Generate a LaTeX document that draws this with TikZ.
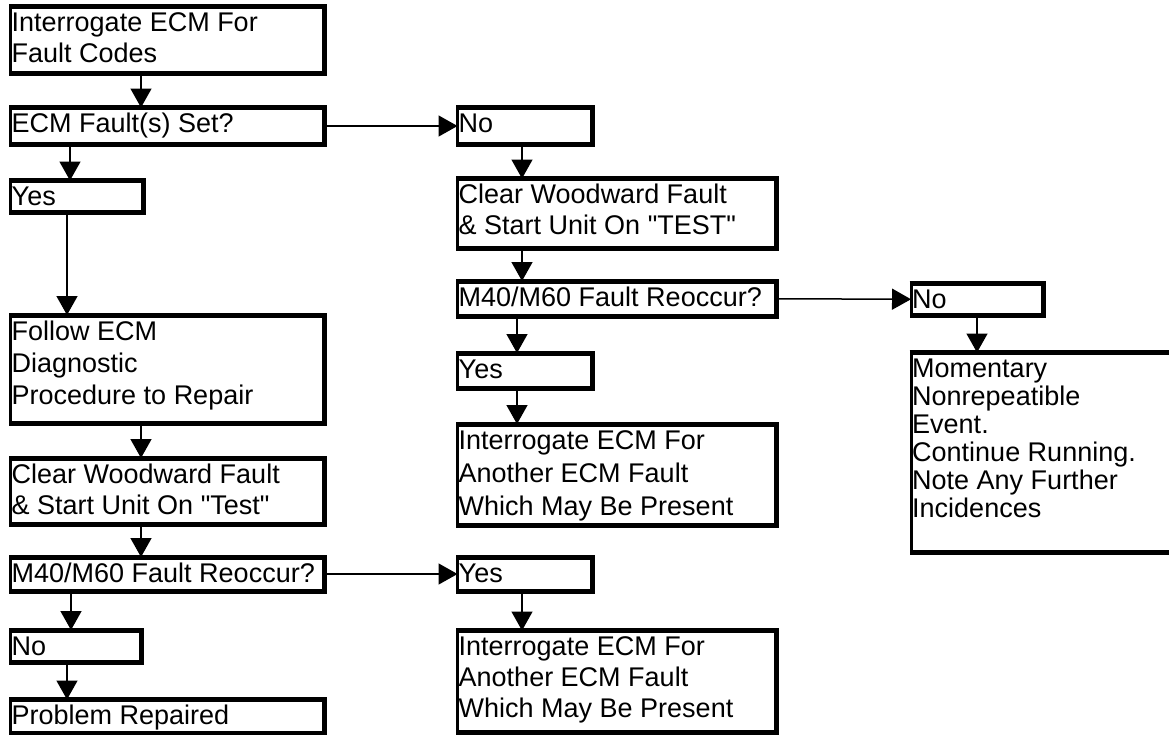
\documentclass[tikz,border=0pt]{standalone}
\usepackage{fontspec}
\setmainfont{Liberation Sans}[Ligatures=TeXOff]
\usetikzlibrary{arrows.meta,fit,calc}
\tikzset{
  boxarea/.style={inner sep=0pt, outer sep=0pt, draw=none, minimum size=0pt},
  thinedge/.style={line width=3pt},
  thickedge/.style={line width=5pt, line join=miter},
  boxtext/.style={inner sep=0pt, anchor=base west, align=left},
  arr/.style={line width=1.5pt, -{Triangle[length=19pt,width=21pt]}}
}
% name, left, top, right, bottom, line spacing, number of lines, text
\newcommand\mkbox[8]{%
  \node[boxarea, fit={(#2,#3) (#4,#5)}] (#1) {};
  \draw[thinedge] (#1.north west) -- (#1.south west);
  \draw[thickedge] ([xshift=-1.5pt]#1.north west) -- (#1.north east) -- (#1.south east) -- ([xshift=-1.5pt]#1.south west);
  \node[boxtext, font=\fontsize{27}{#6}\selectfont] (#1-t) at ($(#1.north west)+(1,{25+(#7-1)*#6})$) {#8};
}
\begin{document}
\begin{tikzpicture}[x=1pt,y=-1pt]
\useasboundingbox (0,0) rectangle (1169,734);
\clip (0,0) rectangle (1169,734);
\fill[white] (0,0) rectangle (1169,734);
% arrow columns
\coordinate (xa1) at (70,0);
\coordinate (xa2) at (67,0);
\coordinate (xa3) at (71,0);
\coordinate (xa4) at (67,0);
\coordinate (xb) at (141,0);
\coordinate (xm1) at (522,0);
\coordinate (xm2) at (517,0);
\coordinate (xm3) at (522,0);
\coordinate (xr) at (977,0);
% left column
\mkbox{b1}{10.5}{6.5}{324}{73.5}{31}{2}{Interrogate ECM For\\Fault Codes}
\mkbox{b2}{10.5}{107.5}{324}{144.5}{31}{1}{ECM Fault(s) Set?}
\mkbox{yesL}{10.5}{180.5}{143.5}{212.5}{31}{1}{Yes}
\mkbox{follow}{10.5}{315}{324}{423}{32}{3}{Follow ECM\\Diagnostic\\Procedure to Repair}
\mkbox{clearL}{10.5}{458}{324}{524}{31}{2}{Clear Woodward Fault\\\& Start Unit On "Test"}
\mkbox{reoccL}{10.5}{557}{324}{591}{31}{1}{M40/M60 Fault Reoccur?}
\mkbox{noL}{10.5}{630}{141}{662}{31}{1}{No}
\mkbox{repaired}{10.5}{699.5}{324}{733}{31}{1}{Problem Repaired}
% middle column
\mkbox{noM}{457.5}{107.5}{592}{144.5}{31}{1}{No}
\mkbox{clearM}{457.5}{178.5}{776}{248}{31}{2}{Clear Woodward Fault\\\& Start Unit On "TEST"}
\mkbox{reoccM}{457.5}{281}{776}{316.5}{31}{1}{M40/M60 Fault Reoccur?}
\mkbox{yesM}{457.5}{353}{592}{388}{31}{1}{Yes}
\mkbox{interM}{457.5}{424}{776}{525}{33}{3}{Interrogate ECM For\\Another ECM Fault\\Which May Be Present}
\mkbox{yesB}{457.5}{557}{592}{591}{31}{1}{Yes}
\mkbox{interB}{457.5}{630.5}{776}{732}{31}{3}{Interrogate ECM For\\Another ECM Fault\\Which May Be Present}
% right column
\mkbox{noR}{911}{283.5}{1043}{315}{31}{1}{No}
\mkbox{moment}{911}{352.5}{1185}{552.5}{28}{6}{Momentary\\Nonrepeatible\\Event.\\Continue Running.\\Note Any Further\\Incidences}
% connectors
\draw[arr] (b1.south -| xb) -- (b2.north -| xb);
\draw[arr] (b2.east) -- (noM.west);
\draw[arr] (b2.south -| xa1) -- (yesL.north -| xa1);
\draw[arr] (yesL.south -| xa2) -- (follow.north -| xa2);
\draw[arr] (follow.south -| xb) -- (clearL.north -| xb);
\draw[arr] (clearL.south -| xb) -- (reoccL.north -| xb);
\draw[arr] (reoccL.east) -- (yesB.west);
\draw[arr] (reoccL.south -| xa3) -- (noL.north -| xa3);
\draw[arr] (noL.south -| xa4) -- (repaired.north -| xa4);
\draw[arr] (noM.south -| xm1) -- (clearM.north -| xm1);
\draw[arr] (clearM.south -| xm1) -- (reoccM.north -| xm1);
\draw[arr] (reoccM.east) -- (noR.west);
\draw[arr] (reoccM.south -| xm2) -- (yesM.north -| xm2);
\draw[arr] (yesM.south -| xm2) -- (interM.north -| xm2);
\draw[arr] (yesB.south -| xm3) -- (interB.north -| xm3);
\draw[arr] (noR.south -| xr) -- (moment.north -| xr);
\end{tikzpicture}
\end{document}
